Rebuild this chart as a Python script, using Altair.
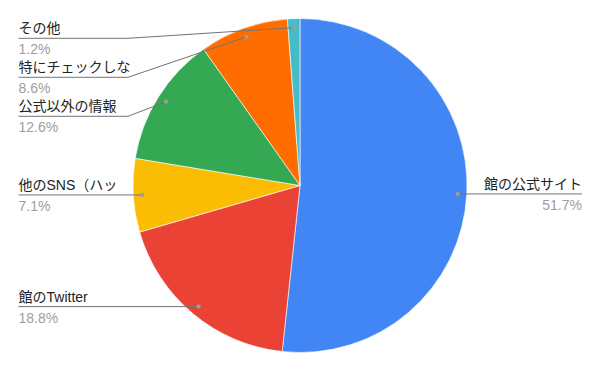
import math
import pandas as pd
import altair as alt

# Survey answers, clockwise from 12 o'clock
labels = ["館の公式サイト", "館のTwitter", "他のSNS（ハッ", "公式以外の情報", "特にチェックしな", "その他"]
shares = [51.7, 18.8, 7.1, 12.6, 8.6, 1.2]
colors = ["#4285F4", "#EA4335", "#FBBC04", "#34A853", "#FF6D01", "#46BDC6"]

# Canvas / pie geometry (pixels)
W, H = 600, 371
CX, CY = W / 2, H / 2
R = 167
DOT_R = 158          # radius at which leader dots sit
LEFT_X, ELBOW_X, RIGHT_X = 18.5, 128, 582
TOP_Y, ROW_GAP = 38.3, 39

FONT = "Arial, Liberation Sans, Noto Sans CJK JP, sans-serif"

total = sum(shares)
pie = pd.DataFrame({"label": labels, "share": shares, "idx": range(len(labels))})

# leader dot positions on each slice's mid-angle
items = []
cum = 0.0
for i, (lab, v) in enumerate(zip(labels, shares)):
    ang = (cum + v / 2) / total * 2 * math.pi
    cum += v
    dx = CX + DOT_R * math.sin(ang)
    dy = CY - DOT_R * math.cos(ang)
    items.append({"label": lab, "share": v, "dx": dx, "dy": dy,
                  "side": "right" if math.sin(ang) > 0 else "left"})

# stack left-side labels top to bottom so they don't collide
prev = None
for it in sorted([t for t in items if t["side"] == "left"], key=lambda t: t["dy"]):
    ly = max(it["dy"], TOP_Y) if prev is None else max(it["dy"], prev + ROW_GAP)
    it["ly"] = ly
    prev = ly
for it in items:
    if it["side"] == "right":
        it["ly"] = it["dy"]

line_rows, text_rows = [], []
for it in items:
    if it["side"] == "left":
        pts = [(LEFT_X, it["ly"]), (min(ELBOW_X, it["dx"]), it["ly"]), (it["dx"], it["dy"])]
        tx = LEFT_X
    else:
        pts = [(RIGHT_X, it["ly"]), (it["dx"], it["dy"])]
        tx = RIGHT_X
    for k, (px, py) in enumerate(pts):
        line_rows.append({"label": it["label"], "k": k, "px": px, "py": py})
    text_rows.append({"label": it["label"], "pct": f"{it['share']:.1f}%",
                      "tx": tx, "ty": it["ly"], "side": it["side"],
                      "dx": it["dx"], "dy": it["dy"]})

lines = pd.DataFrame(line_rows)
texts = pd.DataFrame(text_rows)

xs = alt.Scale(domain=[0, W], nice=False, zero=False)
ys = alt.Scale(domain=[0, H], nice=False, zero=False, reverse=True)

arcs = alt.Chart(pie).mark_arc(radius=R, stroke="white", strokeWidth=0.6).encode(
    theta=alt.Theta("share:Q", stack=True),
    color=alt.Color("label:N", scale=alt.Scale(domain=labels, range=colors), legend=None),
    order=alt.Order("idx:Q"),
)

leaders = alt.Chart(lines).mark_line(color="#737373", strokeWidth=1).encode(
    x=alt.X("px:Q", scale=xs, axis=None),
    y=alt.Y("py:Q", scale=ys, axis=None),
    detail="label:N",
    order="k:Q",
)

dots = alt.Chart(texts).mark_circle(size=18, color="#9e9e9e", opacity=1).encode(
    x=alt.X("dx:Q", scale=xs, axis=None),
    y=alt.Y("dy:Q", scale=ys, axis=None),
)


def side_text(side, align):
    base = alt.Chart(texts).transform_filter(alt.datum.side == side)
    enc = dict(x=alt.X("tx:Q", scale=xs, axis=None), y=alt.Y("ty:Q", scale=ys, axis=None))
    name = base.mark_text(align=align, baseline="alphabetic", dy=-5, fontSize=14,
                          font=FONT, color="#222222").encode(text="label:N", **enc)
    pct = base.mark_text(align=align, baseline="alphabetic", dy=16, fontSize=14,
                         font=FONT, color="#9e9e9e").encode(text="pct:N", **enc)
    return name + pct


chart = alt.layer(
    arcs, leaders, dots, side_text("left", "left"), side_text("right", "right")
).properties(
    width=W, height=H, padding=0, autosize=alt.AutoSizeParams(type="none"),
    background="white",
).configure_view(stroke=None)

chart.save("out.html", embed_options={"renderer": "svg", "actions": False})
